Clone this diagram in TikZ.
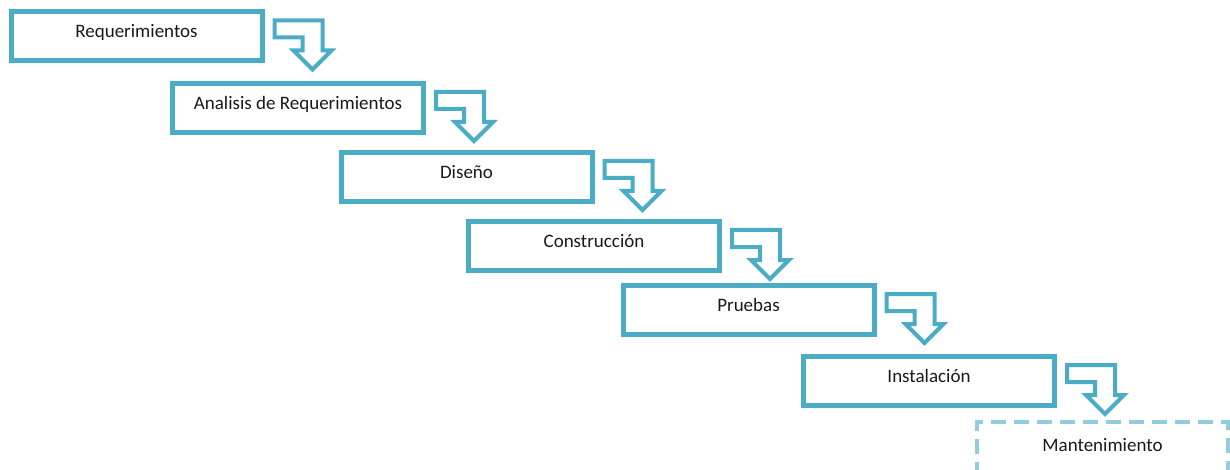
\documentclass[tikz,border=0pt]{standalone}
\usepackage{fontspec}
\setmainfont{Carlito}
\definecolor{stepblue}{HTML}{4BACC6}
\definecolor{steplight}{HTML}{93CDDD}
\begin{document}
\begin{tikzpicture}[x=1pt,y=-1pt,
  stagebox/.style={draw=stepblue, line width=5pt, minimum width=251pt,
    minimum height=49pt, inner sep=0pt, text=black!90,
    font=\fontsize{19}{22}\selectfont, text height=10pt, text depth=7pt},
  futurebox/.style={stagebox, draw=steplight, line width=4.5pt,
    minimum height=56pt, dash pattern=on 15pt off 8pt},
  arrowline/.style={draw=stepblue, line width=4pt, line join=miter, fill=white},
  bentarrow/.pic={
    \draw[arrowline] (0,0) -- (48,0) -- (48,30) -- (57,30) -- (38,49)
      -- (19,30) -- (28,30) -- (28,17) -- (0,17) -- cycle;
  }
]
\useasboundingbox (0,0) rectangle (1230,470);
\clip (0,0) rectangle (1230,470);

% the stages of the waterfall
\node[stagebox]  (req)  at (136.5,36.5) {Requerimientos};
\node[stagebox]  (ana)  at (298,108)    {Analisis de Requerimientos};
\node[stagebox]  (dis)  at (466.5,177)  {Diseño};
\node[stagebox]  (con)  at (594,246)    {Construcción};
\node[stagebox]  (pru)  at (748.5,310)  {Pruebas};
\node[stagebox]  (ins)  at (929,381)    {Instalación};
\node[futurebox] (man)  at (1102.5,450) {Mantenimiento};

% bent block arrows leading down to the next stage
\foreach \s in {req,ana,dis,con,pru,ins}
  \pic at ([shift={(10,11)}]\s.north east) {bentarrow};
\end{tikzpicture}
\end{document}
